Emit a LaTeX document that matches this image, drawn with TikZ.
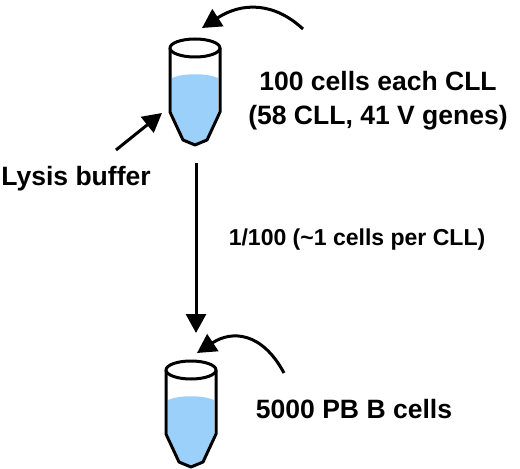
\documentclass[tikz,border=0pt]{standalone}
\usepackage{fontspec}
\setmainfont{Liberation Sans}
\usetikzlibrary{arrows.meta,positioning}
\definecolor{liquid}{HTML}{9BD0FB}
\begin{document}
\begin{tikzpicture}[x=0.02cm, y=-0.02cm, >={Triangle[length=0.38cm,width=0.4cm]}]
        \tikzset{lbl/.style={font=\bfseries\fontsize{15.1pt}{19.5pt}\selectfont, align=center, inner sep=0pt}, flow/.style={->, line width=0.06cm}, wall/.style={line width=0.06cm, line join=round},
        tube/.pic={
            \fill[liquid] (-23,30) .. controls (-12,25) and (12,25) .. (23,30) -- (23,64) -- (11,91) -- (0,96) -- (-11,91) -- (-23,64) -- cycle;
            \draw[wall] (-25,0) -- (-25,64) -- (-12,92) -- (0,97) -- (12,92) -- (25,64) -- (25,0);
            \draw[wall, fill=white] (0,0) ellipse (25 and 9);
        }}
        \useasboundingbox (0,0) rectangle (520,469);
        \pic at (195,48) {tube};
        \pic at (191,370) {tube};
        \node[lbl] (cll) at (378,101) {100 cells each CLL\\(58 CLL, 41 V genes)};
        \node[lbl] (lysis) at (76,179) {Lysis buffer};
        \node[lbl, font=\fontsize{13.1pt}{16pt}\selectfont\bfseries] (dil) at (357,240) {1/100 (\textasciitilde1 cells per CLL)};
        \node[lbl] (pbb) at (354,409) {5000 PB B cells};
        \coordinate (t1) at (202,28);
        \coordinate (t1s) at (303,29);
        \coordinate (t1l) at (162,113);
        \coordinate (l1) at (116,150);
        \coordinate (v1) at (196,163);
        \coordinate (v2) at (196,333);
        \coordinate (t2) at (197,353);
        \coordinate (t2s) at (284,373);
        \draw[flow] (t1s) .. controls (274,2) and (242,2) .. (t1);
        \draw[flow] (l1) -- (t1l);
        \draw[flow] (v1) -- (v2);
        \draw[flow] (t2s) .. controls (262,332) and (232,330) .. (t2);
    \end{tikzpicture}
\end{document}
